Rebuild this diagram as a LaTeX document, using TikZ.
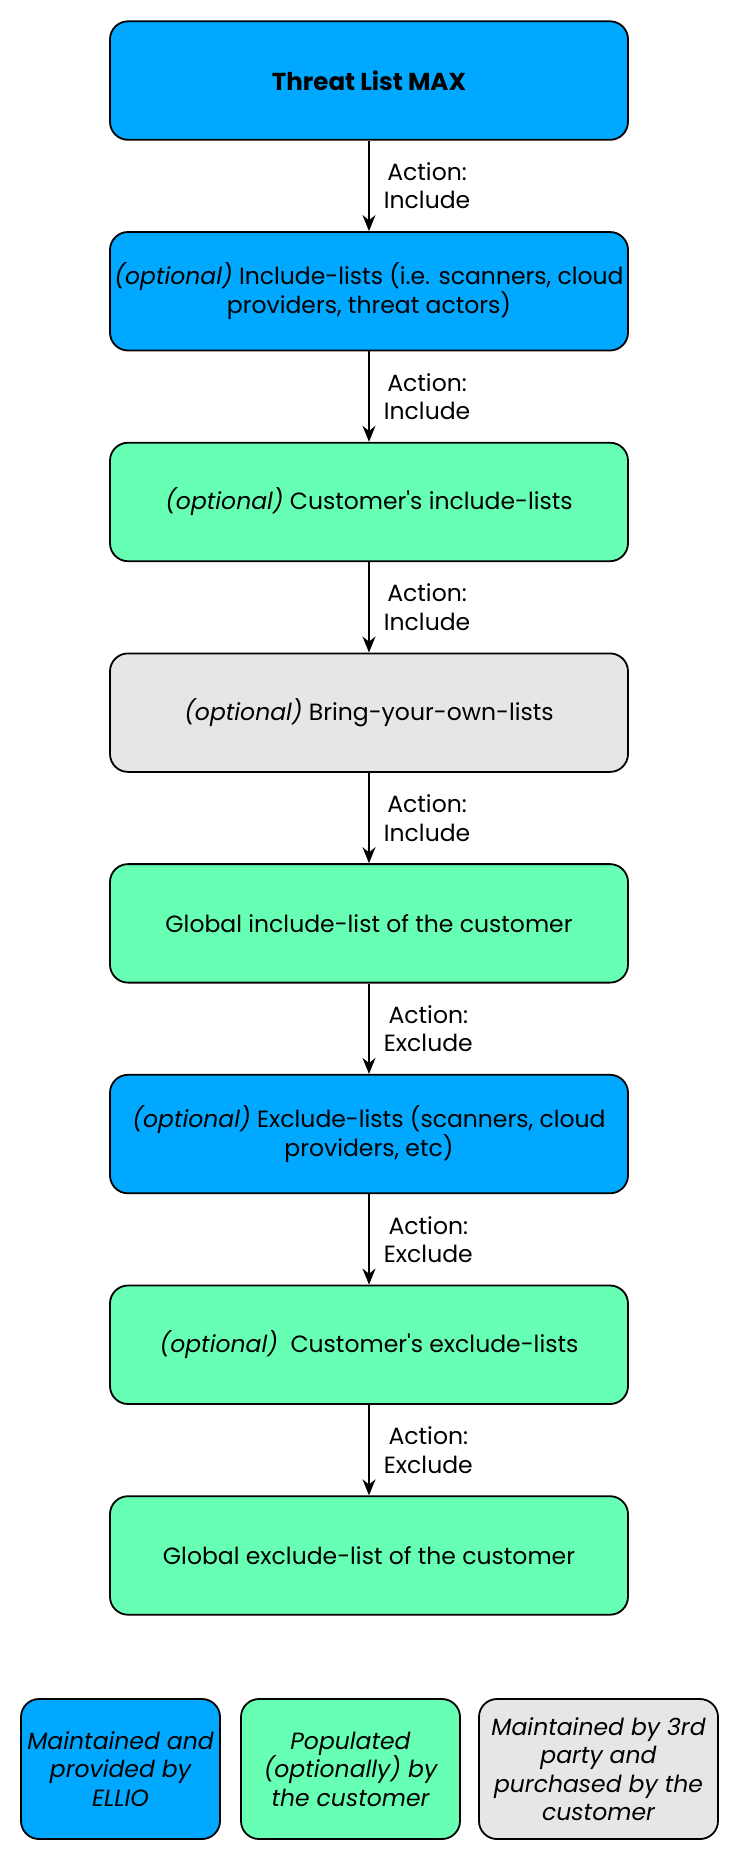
\documentclass[tikz,border=0pt]{standalone}
\usepackage{fontspec}
\setmainfont{Poppins}
\usetikzlibrary{arrows.meta,positioning}
\definecolor{ellio}{HTML}{00A8FF}
\definecolor{cust}{HTML}{66FFB3}
\definecolor{third}{HTML}{E6E6E6}
\begin{document}
\begin{tikzpicture}[x=1pt,y=-1pt,
  box/.style={draw=black,line width=1.8pt,rounded corners=18pt,minimum width=518pt,minimum height=118.5pt,align=center,font=\fontsize{23.5}{28.4}\selectfont,text=black,inner sep=0pt},
  legbox/.style={draw=black,line width=1.8pt,rounded corners=18pt,minimum height=140pt,align=center,font=\fontsize{23.5}{28.4}\selectfont\itshape,inner sep=0pt},
  lab/.style={font=\fontsize{23.5}{28.4}\selectfont,align=center,inner sep=0pt},
  conn/.style={line width=1.8pt,-{Stealth[length=16pt,width=13pt]}}]
\useasboundingbox (0,0) rectangle (742,1864);
\node[box,fill=ellio] (b1) at (369,{21.3+59.25}) {\fontsize{24.5}{28.4}\selectfont\bfseries Threat List MAX};
\node[box,fill=ellio] (b2) at (369,{21.3+210.7*1+59.25}) {\textit{(optional)} Include-lists (i.e. scanners, cloud\\providers, threat actors)};
\node[box,fill=cust] (b3) at (369,{21.3+210.7*2+59.25}) {\textit{(optional)} Customer\textquotesingle s include-lists};
\node[box,fill=third] (b4) at (369,{21.3+210.7*3+59.25}) {\textit{(optional)} Bring-your-own-lists};
\node[box,fill=cust] (b5) at (369,{21.3+210.7*4+59.25}) {Global include-list of the customer};
\node[box,fill=ellio] (b6) at (369,{21.3+210.7*5+59.25}) {\textit{(optional)} Exclude-lists (scanners, cloud\\providers, etc)};
\node[box,fill=cust] (b7) at (369,{21.3+210.7*6+59.25}) {\textit{(optional)}\ \ Customer\textquotesingle s exclude-lists};
\node[box,fill=cust] (b8) at (369,{21.3+210.7*7+59.25}) {Global exclude-list of the customer};
\foreach \a/\b/\t in {b1/b2/Include,b2/b3/Include,b3/b4/Include,b4/b5/Include,b5/b6/Exclude,b6/b7/Exclude,b7/b8/Exclude}{
  \draw[conn] (\a.south) -- (\b.north) node[lab,midway,right=14pt] (l\a) {Action:\\\t};
}
\node[legbox,fill=ellio,minimum width=199pt] (g1) at (120.5,1769) {Maintained and\\provided by\\ELLIO};
\node[legbox,fill=cust,minimum width=219pt] (g2) at (350.5,1769) {Populated\\(optionally) by\\the customer};
\node[legbox,fill=third,minimum width=239pt] (g3) at (598.5,1769) {Maintained by 3rd\\party and\\purchased by the\\customer};
\end{tikzpicture}
\end{document}
